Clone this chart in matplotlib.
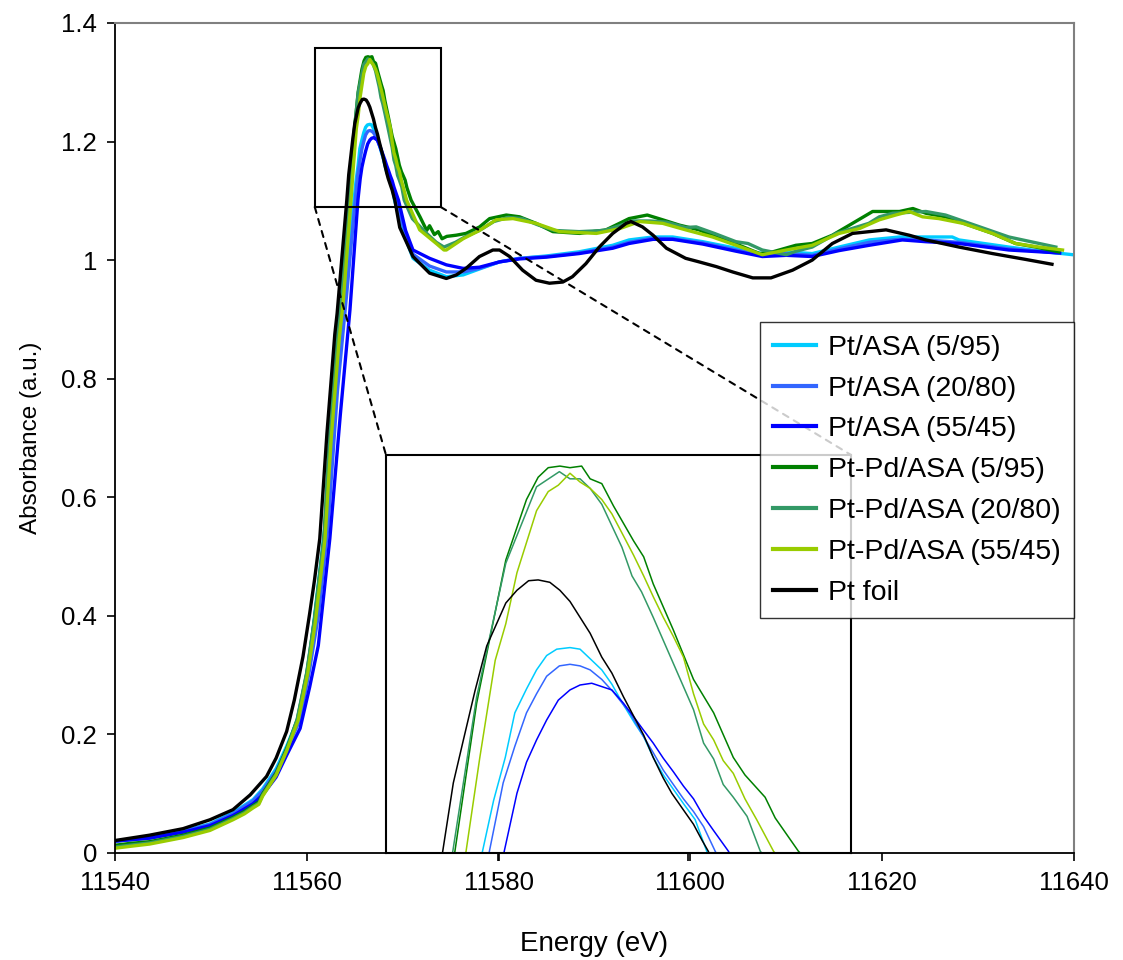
import matplotlib
matplotlib.use("Agg")
import matplotlib.pyplot as plt
from matplotlib.patches import Rectangle, ConnectionPatch

plt.rcParams['font.family'] = ['Liberation Sans', 'DejaVu Sans']

# ---- data (energy in eV, absorbance in a.u.) ----
labels = ["Pt/ASA (5/95)", "Pt/ASA (20/80)", "Pt/ASA (55/45)",
          "Pt-Pd/ASA (5/95)", "Pt-Pd/ASA (20/80)", "Pt-Pd/ASA (55/45)", "Pt foil"]
colors = ["#00CCFF", "#3366FF", "#0000FF", "#008000", "#339966", "#99CC00", "#000000"]

e_pt5 = [11539, 11540, 11543.6, 11547.1, 11549.9, 11552.3, 11554.4, 11555.4, 11556.8, 11557.9,
         11559.3, 11560.3, 11561.1, 11562.1, 11563.1, 11564.1, 11564.92,
         11565.13, 11565.35, 11565.53, 11565.75, 11565.94, 11566.13, 11566.32, 11566.57, 11566.76,
         11566.95, 11567.17, 11567.36, 11567.58, 11567.80, 11567.96, 11568.14, 11568.33, 11568.52,
         11568.71, 11568.93, 11569.15, 11570.0, 11571.07, 11572.8, 11574.55, 11576.3, 11578.0,
         11580.1, 11582.2, 11585.0, 11588.4, 11591.9, 11593.6, 11596.1, 11598.15, 11601.3, 11604.75,
         11607.5, 11610.0, 11612.7, 11615.5, 11618.65, 11621.8, 11627.3, 11628.0, 11633.2, 11637.0,
         11640.5]
a_pt5 = [0.019, 0.020, 0.026, 0.037, 0.049, 0.068, 0.090, 0.108, 0.142, 0.180,
         0.235, 0.330, 0.440, 0.580, 0.800, 0.970, 1.101,
         1.133, 1.160, 1.188, 1.203, 1.215, 1.224, 1.228, 1.229, 1.228,
         1.222, 1.215, 1.206, 1.193, 1.181, 1.173, 1.160, 1.149, 1.140,
         1.131, 1.121, 1.101, 1.050, 1.003, 0.983, 0.972, 0.975, 0.985,
         0.997, 1.003, 1.007, 1.014, 1.025, 1.034, 1.039, 1.039, 1.031, 1.020,
         1.011, 1.014, 1.011, 1.022, 1.034, 1.039, 1.039, 1.034, 1.022, 1.014,
         1.008]

e_pt20 = [11539, 11540, 11543.6, 11547.1, 11549.9, 11552.3, 11554.4, 11555.4, 11556.8, 11557.9,
          11559.3, 11560.3, 11561.2, 11562.2, 11563.2, 11564.2, 11565.05,
          11565.31, 11565.53, 11565.75, 11565.94, 11566.13, 11566.37, 11566.57, 11566.76, 11566.95,
          11567.17, 11567.39, 11567.70, 11567.96, 11568.14, 11568.33, 11568.52, 11568.71, 11568.90,
          11569.09, 11569.31, 11570.0, 11571.07, 11572.8, 11574.55, 11576.3, 11578.0, 11580.1,
          11582.2, 11585.0, 11588.4, 11591.9, 11593.6, 11596.1, 11598.15, 11601.3, 11604.75, 11607.5,
          11610.0, 11612.7, 11615.5, 11618.65, 11621.8, 11624.5, 11628.0, 11633.2, 11638.5]
a_pt20 = [0.019, 0.020, 0.025, 0.036, 0.048, 0.066, 0.088, 0.105, 0.138, 0.175,
          0.225, 0.310, 0.400, 0.550, 0.780, 0.950, 1.101,
          1.144, 1.167, 1.188, 1.200, 1.211, 1.2175, 1.2185, 1.2175, 1.215,
          1.209, 1.201, 1.188, 1.173, 1.163, 1.152, 1.143, 1.134, 1.126,
          1.1165, 1.101, 1.060, 1.010, 0.990, 0.980, 0.980, 0.986, 0.997,
          1.003, 1.006, 1.012, 1.022, 1.030, 1.037, 1.036, 1.029, 1.017, 1.008,
          1.011, 1.008, 1.019, 1.030, 1.035, 1.034, 1.030, 1.019, 1.012]

e_pt55 = [11539, 11540, 11543.6, 11547.1, 11549.9, 11552.3, 11554.4, 11555.4, 11556.8, 11557.9,
          11559.3, 11560.3, 11561.2, 11562.4, 11563.5, 11564.5, 11565.33,
          11565.57, 11565.75, 11565.94, 11566.13, 11566.35, 11566.57, 11566.76, 11566.98, 11567.17,
          11567.36, 11567.58, 11567.77, 11567.96, 11568.14, 11568.33, 11568.52, 11568.71, 11568.90,
          11569.09, 11569.28, 11569.56, 11570.3, 11571.07, 11572.8, 11574.55, 11576.3, 11578.0,
          11580.1, 11582.2, 11585.0, 11588.4, 11591.9, 11593.6, 11596.1, 11598.15, 11601.3, 11604.75,
          11607.5, 11610.0, 11612.7, 11615.5, 11618.65, 11622.1, 11624.55, 11628.0, 11633.2, 11638.5]
a_pt55 = [0.019, 0.020, 0.025, 0.035, 0.046, 0.063, 0.083, 0.098, 0.128, 0.165,
          0.210, 0.280, 0.350, 0.530, 0.740, 0.916, 1.101,
          1.1375, 1.157, 1.171, 1.1835, 1.196, 1.2024, 1.2055, 1.2066, 1.2045,
          1.2024, 1.194, 1.1856, 1.177, 1.169, 1.1595, 1.151, 1.142, 1.134,
          1.123, 1.114, 1.101, 1.050, 1.017, 1.003, 0.992, 0.986, 0.988,
          0.997, 1.002, 1.005, 1.011, 1.020, 1.028, 1.035, 1.035, 1.027, 1.015,
          1.006, 1.008, 1.006, 1.016, 1.025, 1.034, 1.031, 1.028, 1.017, 1.012]

e_ptpd5 = [11539, 11540, 11541.5, 11543.6, 11545.2, 11547.1, 11549.9, 11552.3, 11553.5, 11554.4,
           11555.0, 11555.4, 11556.8, 11557.9, 11559.0, 11560.0, 11560.8, 11561.8, 11562.45, 11563.25,
           11563.6, 11564.40, 11564.81, 11565.36, 11565.75, 11565.97, 11566.16, 11566.38, 11566.57,
           11566.79, 11566.95, 11567.17, 11567.39, 11567.77, 11567.96, 11568.14, 11568.52, 11568.90,
           11569.28, 11569.65, 11569.87, 11570.25, 11570.44, 11570.88, 11571.8, 11572.5, 11572.8,
           11573.3, 11573.7, 11574.1, 11574.6, 11575.59, 11576.6, 11578.02, 11579.06, 11580.8,
           11582.19, 11583.9, 11585.66, 11588.44, 11591.2, 11592.6, 11593.6, 11595.5, 11597.1,
           11598.85, 11600.9, 11603.0, 11605.1, 11607.2, 11608.6, 11611.0, 11612.7, 11614.8, 11616.9,
           11619.0, 11621.8, 11623.2, 11624.55, 11626.6, 11628.0, 11631.5, 11633.9, 11636.0, 11638.4]
a_ptpd5 = [0.013, 0.013, 0.016, 0.019, 0.024, 0.030, 0.042, 0.060, 0.070, 0.080,
           0.086, 0.100, 0.135, 0.176, 0.224, 0.303, 0.393, 0.530, 0.708, 0.875,
           0.930, 1.101, 1.194, 1.284, 1.322, 1.336, 1.342, 1.343, 1.342,
           1.343, 1.335, 1.332, 1.318, 1.296, 1.286, 1.269, 1.240, 1.209,
           1.188, 1.160, 1.149, 1.135, 1.122, 1.101, 1.073, 1.050, 1.058,
           1.043, 1.048, 1.036, 1.040, 1.042, 1.045, 1.056, 1.070, 1.076,
           1.073, 1.062, 1.048, 1.045, 1.051, 1.062, 1.070, 1.076, 1.068,
           1.059, 1.051, 1.037, 1.025, 1.011, 1.014, 1.025, 1.028, 1.042, 1.062,
           1.082, 1.082, 1.087, 1.079, 1.073, 1.065, 1.045, 1.028, 1.022, 1.014]

e_ptpd20 = [11539, 11540, 11541.5, 11543.6, 11545.2, 11547.1, 11549.9, 11552.3, 11553.5, 11554.4,
            11555.0, 11555.4, 11556.8, 11557.9, 11559.0, 11560.0, 11560.8, 11561.8, 11562.4, 11563.2,
            11563.55, 11564.36, 11564.81, 11565.36, 11565.94, 11566.37, 11566.57, 11566.76, 11566.95,
            11567.17, 11567.55, 11567.74, 11567.92, 11568.14, 11568.52, 11568.90, 11569.09, 11569.28,
            11569.46, 11569.65, 11569.91, 11570.16, 11571.0, 11572.5, 11573.5, 11574.3, 11575.5,
            11576.6, 11578.0, 11579.5, 11581.0, 11582.5, 11584.0, 11585.8, 11588.4, 11591.0, 11592.6,
            11594.0, 11595.8, 11597.5, 11599.5, 11600.6, 11602.5, 11604.75, 11606.0, 11607.5, 11610.0,
            11611.0, 11612.7, 11615.2, 11618.6, 11619.7, 11621.1, 11624.55, 11626.6, 11629.1, 11633.2,
            11638.1]
a_ptpd20 = [0.010, 0.010, 0.013, 0.017, 0.022, 0.028, 0.040, 0.058, 0.068, 0.078,
            0.084, 0.098, 0.133, 0.174, 0.226, 0.305, 0.395, 0.535, 0.710, 0.875,
            0.930, 1.101, 1.198, 1.282, 1.330, 1.3395, 1.335, 1.335, 1.329,
            1.319, 1.292, 1.274, 1.264, 1.248, 1.219, 1.190, 1.169, 1.159,
            1.143, 1.135, 1.123, 1.101, 1.070, 1.045, 1.030, 1.022, 1.030,
            1.040, 1.050, 1.065, 1.072, 1.070, 1.060, 1.050, 1.048, 1.050, 1.058,
            1.066, 1.066, 1.064, 1.055, 1.056, 1.045, 1.031, 1.028, 1.017, 1.009,
            1.015, 1.022, 1.045, 1.062, 1.073, 1.079, 1.082, 1.076, 1.062, 1.039,
            1.022]

e_ptpd55 = [11539, 11540, 11541.5, 11543.6, 11545.2, 11547.1, 11549.9, 11552.3, 11553.5, 11554.4,
            11555.0, 11555.4, 11556.8, 11557.9, 11559.1, 11560.1, 11560.9, 11561.9, 11562.55, 11563.4,
            11563.8, 11564.61, 11564.87, 11565.16, 11565.36, 11565.57, 11565.94, 11566.16, 11566.35,
            11566.57, 11566.76, 11566.95, 11567.17, 11567.36, 11567.55, 11567.77, 11567.96, 11568.14,
            11568.33, 11568.52, 11568.71, 11568.90, 11569.09, 11569.28, 11569.46, 11569.65, 11569.87,
            11570.09, 11570.41, 11571.77, 11573.5, 11574.3, 11574.55, 11576.3, 11578.0, 11579.75,
            11581.5, 11583.9, 11586.35, 11590.2, 11592.6, 11594.7, 11597.1, 11599.5, 11602.3, 11604.75,
            11607.5, 11610.0, 11612.7, 11615.5, 11617.6, 11619.7, 11621.4, 11622.8, 11624.2, 11625.9,
            11628.4, 11631.5, 11633.9, 11636.35, 11638.8]
a_ptpd55 = [0.008, 0.008, 0.011, 0.015, 0.020, 0.026, 0.038, 0.056, 0.066, 0.076,
            0.082, 0.096, 0.131, 0.172, 0.224, 0.303, 0.390, 0.530, 0.700, 0.870,
            0.930, 1.101, 1.160, 1.221, 1.244, 1.276, 1.315, 1.327, 1.331,
            1.3385, 1.333, 1.329, 1.322, 1.313, 1.301, 1.287, 1.274, 1.261,
            1.248, 1.236, 1.223, 1.200, 1.181, 1.171, 1.158, 1.150, 1.134,
            1.121, 1.101, 1.051, 1.028, 1.017, 1.017, 1.036, 1.050, 1.068,
            1.070, 1.062, 1.048, 1.045, 1.053, 1.065, 1.062, 1.051, 1.039, 1.025,
            1.009, 1.017, 1.025, 1.045, 1.053, 1.068, 1.076, 1.082, 1.073, 1.070,
            1.062, 1.045, 1.028, 1.022, 1.017]

e_foil = [11539, 11540, 11543.6, 11547.1, 11549.9, 11552.3, 11554.1, 11555.8, 11556.8, 11557.9,
          11558.7, 11559.6, 11560.3, 11560.8, 11561.35, 11562.1, 11562.92, 11563.16, 11564.17,
          11564.37, 11564.56, 11564.78, 11565.00, 11565.36, 11565.57, 11565.79, 11565.97, 11566.19,
          11566.38, 11566.57, 11566.76, 11566.95, 11567.17, 11567.36, 11567.58, 11567.77, 11567.96,
          11568.14, 11568.33, 11568.49, 11568.71, 11568.90, 11569.06, 11569.18, 11569.69, 11571.07,
          11572.8, 11574.55, 11575.6, 11576.6, 11578.0, 11579.4, 11580.1, 11581.15, 11582.5, 11583.9,
          11585.3, 11586.7, 11587.7, 11589.1, 11590.5, 11591.9, 11593.3, 11593.8, 11595.0, 11596.1,
          11597.5, 11599.5, 11600.9, 11602.7, 11604.4, 11606.5, 11608.4, 11610.65, 11612.7, 11614.8,
          11616.9, 11618.65, 11620.4, 11622.8, 11624.55, 11628.0, 11631.5, 11635.0, 11637.7]
a_foil = [0.020, 0.021, 0.030, 0.041, 0.056, 0.073, 0.098, 0.129, 0.160, 0.205,
          0.258, 0.331, 0.404, 0.460, 0.530, 0.708, 0.875, 0.910, 1.101,
          1.144, 1.171, 1.202, 1.230, 1.257, 1.265, 1.271, 1.2715, 1.270,
          1.265, 1.258, 1.248, 1.238, 1.223, 1.213, 1.198, 1.186, 1.174,
          1.160, 1.147, 1.1375, 1.127, 1.118, 1.108, 1.101, 1.055, 1.006,
          0.978, 0.969, 0.975, 0.986, 1.006, 1.017, 1.017, 1.006, 0.983, 0.966,
          0.961, 0.963, 0.972, 0.994, 1.022, 1.045, 1.062, 1.065, 1.056, 1.042,
          1.020, 1.003, 0.997, 0.989, 0.980, 0.970, 0.970, 0.983, 1.000, 1.028,
          1.045, 1.048, 1.051, 1.042, 1.034, 1.022, 1.011, 1.001, 0.993]

series = [(e_pt5, a_pt5), (e_pt20, a_pt20), (e_pt55, a_pt55),
          (e_ptpd5, a_ptpd5), (e_ptpd20, a_ptpd20), (e_ptpd55, a_ptpd55), (e_foil, a_foil)]

# zoom box drawn on the main chart, and range shown in the inset
box_x = [11560.83, 11573.96]
box_y = [1.0896, 1.3577]
inset_x = [11563.1, 11571.87]
inset_y = [1.10, 1.35]
inset_ticks = [11565.21, 11568.80]

fig = plt.figure(figsize=(11.23, 9.6), dpi=100)
ax = fig.add_axes([0.1024, 0.1115, 0.854, 0.8646])

lines = []
for (e, a), c, lab in zip(series, colors, labels):
    ln, = ax.plot(e, a, color=c, lw=2.4, label=lab, solid_joinstyle="round", zorder=2)
    lines.append(ln)

ax.set_xlim(11540, 11640)
ax.set_ylim(0, 1.4)
ax.set_xticks([11540, 11560, 11580, 11600, 11620, 11640])
ax.set_yticks([0, 0.2, 0.4, 0.6, 0.8, 1.0, 1.2, 1.4])
ax.set_yticklabels(["0", "0.2", "0.4", "0.6", "0.8", "1", "1.2", "1.4"])
ax.tick_params(direction="out", length=6, width=1.2, labelsize=18.5, pad=7)
ax.set_xlabel("Energy (eV)", fontsize=20, labelpad=26)
ax.set_ylabel("Absorbance (a.u.)", fontsize=17.5, labelpad=14)
for s in ["left", "bottom"]:
    ax.spines[s].set_linewidth(1.3)
    ax.spines[s].set_color("black")
for s in ["top", "right"]:
    ax.spines[s].set_linewidth(1.5)
    ax.spines[s].set_color("#808080")

ax.add_patch(Rectangle((box_x[0], box_y[0]), box_x[1] - box_x[0], box_y[1] - box_y[0],
                       fill=False, edgecolor="black", lw=1.5, zorder=4))

# inset
ins = fig.add_axes([0.3437, 0.1115, 0.4141, 0.4146])
ins.set_zorder(3)
for (e, a), c in zip(series, colors):
    ins.plot(e, a, color=c, lw=1.1)
ins.set_xlim(inset_x)
ins.set_ylim(inset_y)
ins.set_xticks(inset_ticks)
ins.set_xticklabels([])
ins.set_yticks([])
ins.tick_params(axis="x", direction="out", length=6, width=1.2)
for s in ins.spines.values():
    s.set_linewidth(1.5)

for xa, xb in [(box_x[0], 0), (box_x[1], 1)]:
    con = ConnectionPatch(xyA=(xa, box_y[0]), coordsA=ax.transData,
                          xyB=(xb, 1), coordsB=ins.transAxes,
                          linestyle=(0, (3, 3)), color="black", lw=1.5)
    fig.add_artist(con)

leg = fig.legend(handles=lines, loc="upper right", bbox_to_anchor=(1074 / 1123, 0.6646),
                 fontsize=20.5, frameon=True, fancybox=False, edgecolor="black",
                 handlelength=1.5, handletextpad=0.45, labelspacing=0.52, borderpad=0.45,
                 borderaxespad=0)
leg.get_frame().set_linewidth(1.0)
for h in leg.legend_handles:
    h.set_linewidth(3)
leg.set_zorder(10)

fig.savefig("out.png", dpi=100)
